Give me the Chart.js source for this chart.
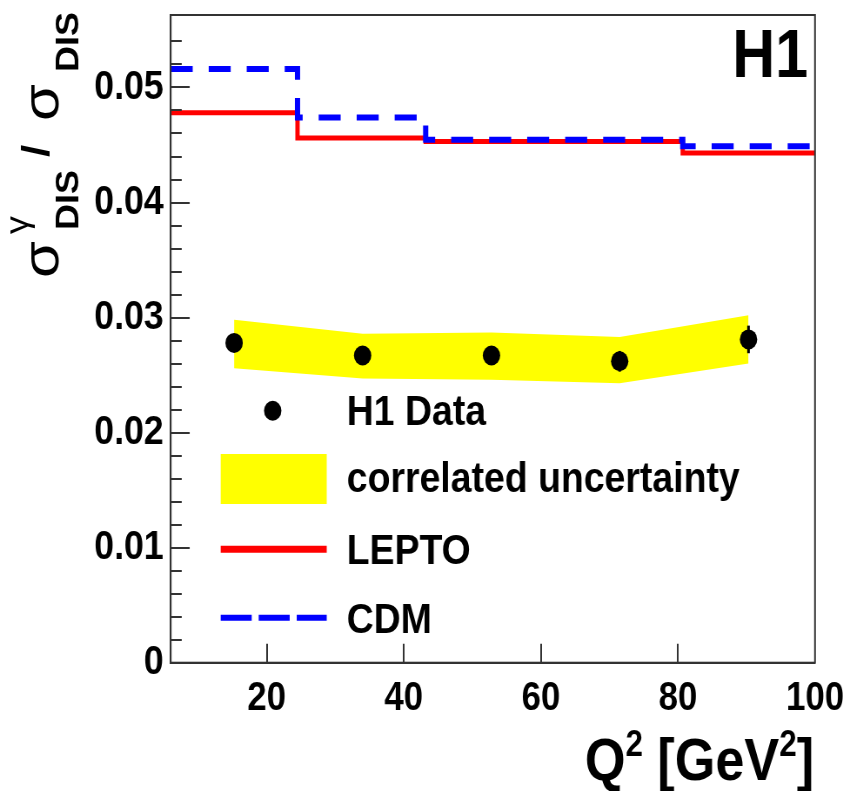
<!DOCTYPE html>
<html>
<head>
<meta charset="utf-8">
<script src="https://cdn.jsdelivr.net/npm/chart.js@4.4.1/dist/chart.umd.min.js"></script>
<style>
  html, body { margin: 0; padding: 0; background: #fff; overflow: hidden; }
  #wrap { width: 843px; height: 791px; overflow: hidden; }
  #c { transform-origin: 0 0; transform: scaleX(0.87); display: block; }
</style>
</head>
<body>
<div id="wrap"><canvas id="c" width="969" height="791" style="width:969px;height:791px"></canvas></div>
<script>
// ---- data ----
const binEdges = [6, 24.5, 43.2, 62, 80.7, 100];
const leptoValues = [0.0478, 0.0456, 0.0453, 0.0453, 0.0443];
const cdmValues = [0.0516, 0.0474, 0.04545, 0.04545, 0.0449];
const dataQ2 = [15.25, 34.0, 52.8, 71.5, 90.3];
const dataRatio = [0.0278, 0.0267, 0.0267, 0.0262, 0.0281];
const dataErr = [0.0006, 0.0006, 0.0006, 0.0009, 0.0012];
const bandUpper = [0.0298, 0.0286, 0.0287, 0.0283, 0.0302];
const bandLower = [0.0256, 0.0247, 0.0246, 0.0243, 0.0260];
const xTickValues = [20, 40, 60, 80, 100];
const yTickValues = [0, 0.01, 0.02, 0.03, 0.04, 0.05];
const yTickLabels = ['0', '0.01', '0.02', '0.03', '0.04', '0.05'];
const yMinorStep = 0.002;
const legendLabels = ['H1 Data', 'correlated uncertainty', 'LEPTO', 'CDM'];
const experimentLabel = 'H1';

// horizontal compression of the whole picture (canvas is drawn wider, then squeezed)
const K = 0.87;
const ux = x => x / K;
const FONT = '"Liberation Sans", Arial, sans-serif';

function histPoints(vals) {
  const pts = vals.map((v, i) => ({ x: binEdges[i], y: v }));
  pts.push({ x: binEdges[binEdges.length - 1], y: vals[vals.length - 1] });
  return pts;
}

const decor = {
  id: 'decor',
  afterDatasetsDraw(chart) {
    const ctx = chart.ctx;
    const xs = chart.scales.x, ys = chart.scales.y;
    ctx.save();
    ctx.strokeStyle = '#000';
    ctx.lineWidth = 3;
    dataQ2.forEach((q, i) => {
      const px = xs.getPixelForValue(q);
      ctx.beginPath();
      ctx.moveTo(px, ys.getPixelForValue(dataRatio[i] - dataErr[i]));
      ctx.lineTo(px, ys.getPixelForValue(dataRatio[i] + dataErr[i]));
      ctx.stroke();
    });
    ctx.restore();
  },
  afterDraw(chart) {
    const ctx = chart.ctx;
    const xs = chart.scales.x, ys = chart.scales.y;
    const a = chart.chartArea;
    ctx.save();
    // frame
    ctx.strokeStyle = '#333';
    ctx.lineWidth = 2;
    ctx.strokeRect(a.left, a.top, a.right - a.left, a.bottom - a.top);
    // inward ticks
    ctx.beginPath();
    xTickValues.forEach(v => {
      if (v >= 100) return;
      const px = Math.round(xs.getPixelForValue(v));
      ctx.moveTo(px, a.bottom);
      ctx.lineTo(px, a.bottom - 19);
    });
    for (let k = 0; k * yMinorStep <= 0.0545; k++) {
      const v = k * yMinorStep;
      const py = Math.round(ys.getPixelForValue(v));
      const major = k % 5 === 0;
      ctx.moveTo(a.left, py);
      ctx.lineTo(a.left + ux(major ? 19 : 11), py);
    }
    ctx.stroke();

    // legend
    ctx.fillStyle = '#000';
    ctx.beginPath();
    ctx.arc(ux(272.7), 410.7, 10, 0, Math.PI * 2);
    ctx.fill();
    ctx.fillStyle = '#ffff00';
    ctx.fillRect(ux(220.7), 454, ux(326.7) - ux(220.7), 50);
    ctx.strokeStyle = '#ff0000';
    ctx.lineWidth = 7;
    ctx.setLineDash([]);
    ctx.beginPath(); ctx.moveTo(ux(220.7), 549.3); ctx.lineTo(ux(326.7), 549.3); ctx.stroke();
    ctx.strokeStyle = '#0000ff';
    ctx.lineWidth = 6;
    ctx.setLineDash([ux(31), ux(7)]);
    ctx.beginPath(); ctx.moveTo(ux(220.7), 617.7); ctx.lineTo(ux(326.7), 617.7); ctx.stroke();
    ctx.setLineDash([]);
    ctx.fillStyle = '#000';
    ctx.font = 'bold 43px ' + FONT;
    ctx.textAlign = 'left';
    ctx.textBaseline = 'alphabetic';
    const baselines = [425, 491.7, 564, 632.7];
    legendLabels.forEach((t, i) => ctx.fillText(t, ux(346.7), baselines[i]));

    // experiment label
    ctx.font = 'bold 68px ' + FONT;
    ctx.textAlign = 'right';
    ctx.fillText(experimentLabel, ux(808), 76.7);

    // x title: Q^2 [GeV^2], right aligned
    ctx.textAlign = 'left';
    const big = 'bold 60px ' + FONT, sup = 'bold 36px ' + FONT;
    const parts = [['Q', big, 0], ['2', sup, -24], [' [GeV', big, 0], ['2', sup, -24], [']', big, 0]];
    let total = 0;
    parts.forEach(([t, f]) => { ctx.font = f; total += ctx.measureText(t).width; });
    let x = ux(814) - total;
    parts.forEach(([t, f, dy]) => {
      ctx.font = f;
      ctx.fillText(t, x, 780 + dy);
      x += ctx.measureText(t).width;
    });

    // y title (rotated), along = distance up from y=278, off = horizontal offset from baseline
    ctx.translate(ux(58), 278);
    ctx.rotate(-Math.PI / 2);
    const yparts = [
      ['\u03C3', '60px ' + FONT, 0, 0],
      ['\u03B3', '36px ' + FONT, 44, ux(-30)],
      ['DIS', 'bold 36px ' + FONT, 48, ux(20)],
      ['/', 'bold 44px ' + FONT, 121, ux(-9)],
      ['\u03C3', '60px ' + FONT, 157, 0],
      ['DIS', 'bold 36px ' + FONT, 206, ux(20)]
    ];
    yparts.forEach(([t, f, along, off]) => {
      ctx.font = f;
      ctx.fillText(t, along, off);
    });
    ctx.restore();
  }
};

new Chart(document.getElementById('c'), {
  type: 'line',
  data: {
    datasets: [
      {
        label: 'band upper',
        data: dataQ2.map((q, i) => ({ x: q, y: bandUpper[i] })),
        borderWidth: 0, pointRadius: 0, tension: 0, fill: false,
        borderColor: 'rgba(0,0,0,0)', order: 4
      },
      {
        label: legendLabels[1],
        data: dataQ2.map((q, i) => ({ x: q, y: bandLower[i] })),
        borderWidth: 0, pointRadius: 0, tension: 0, fill: '-1',
        borderColor: 'rgba(0,0,0,0)', backgroundColor: '#ffff00', order: 3
      },
      {
        label: legendLabels[2],
        data: histPoints(leptoValues),
        stepped: 'before', borderColor: '#ff0000', borderWidth: 5,
        pointRadius: 0, fill: false, order: 2
      },
      {
        label: legendLabels[3],
        data: histPoints(cdmValues),
        stepped: 'before', borderColor: '#0000ff', borderWidth: 6,
        borderDash: [ux(22), ux(16)], pointRadius: 0, fill: false, order: 1
      },
      {
        label: legendLabels[0],
        data: dataQ2.map((q, i) => ({ x: q, y: dataRatio[i] })),
        showLine: false, pointRadius: 10, pointBackgroundColor: '#000',
        pointBorderColor: '#000', pointBorderWidth: 0, order: 0
      }
    ]
  },
  options: {
    responsive: false,
    animation: false,
    devicePixelRatio: 1,
    layout: { padding: { left: 0, right: 969 - ux(815), top: 15, bottom: 0 } },
    plugins: { legend: { display: false }, tooltip: { enabled: false } },
    scales: {
      x: {
        type: 'linear', min: 6, max: 100,
        afterBuildTicks: s => { s.ticks = xTickValues.map(v => ({ value: v })); },
        afterFit: s => { s.height = 791 - 662.7; s.paddingLeft = 0; s.paddingRight = 0; },
        grid: { display: false, drawTicks: false },
        border: { display: true, color: '#333', width: 2 },
        ticks: { color: '#000', padding: 12, maxRotation: 0, font: { family: FONT, size: 40, weight: 'bold' } }
      },
      y: {
        type: 'linear', min: 0, max: 0.0563,
        afterBuildTicks: s => { s.ticks = yTickValues.map(v => ({ value: v })); },
        afterFit: s => { s.width = ux(170.7); s.paddingTop = 0; s.paddingBottom = 0; },
        grid: { display: false, drawTicks: false },
        border: { display: true, color: '#333', width: 2 },
        ticks: {
          color: '#000', padding: ux(7), font: { family: FONT, size: 41, weight: 'bold' },
          callback: (v) => { const i = yTickValues.findIndex(t => Math.abs(t - v) < 1e-9); return i >= 0 ? yTickLabels[i] : ''; }
        }
      }
    }
  },
  plugins: [decor]
});
</script>
</body>
</html>
